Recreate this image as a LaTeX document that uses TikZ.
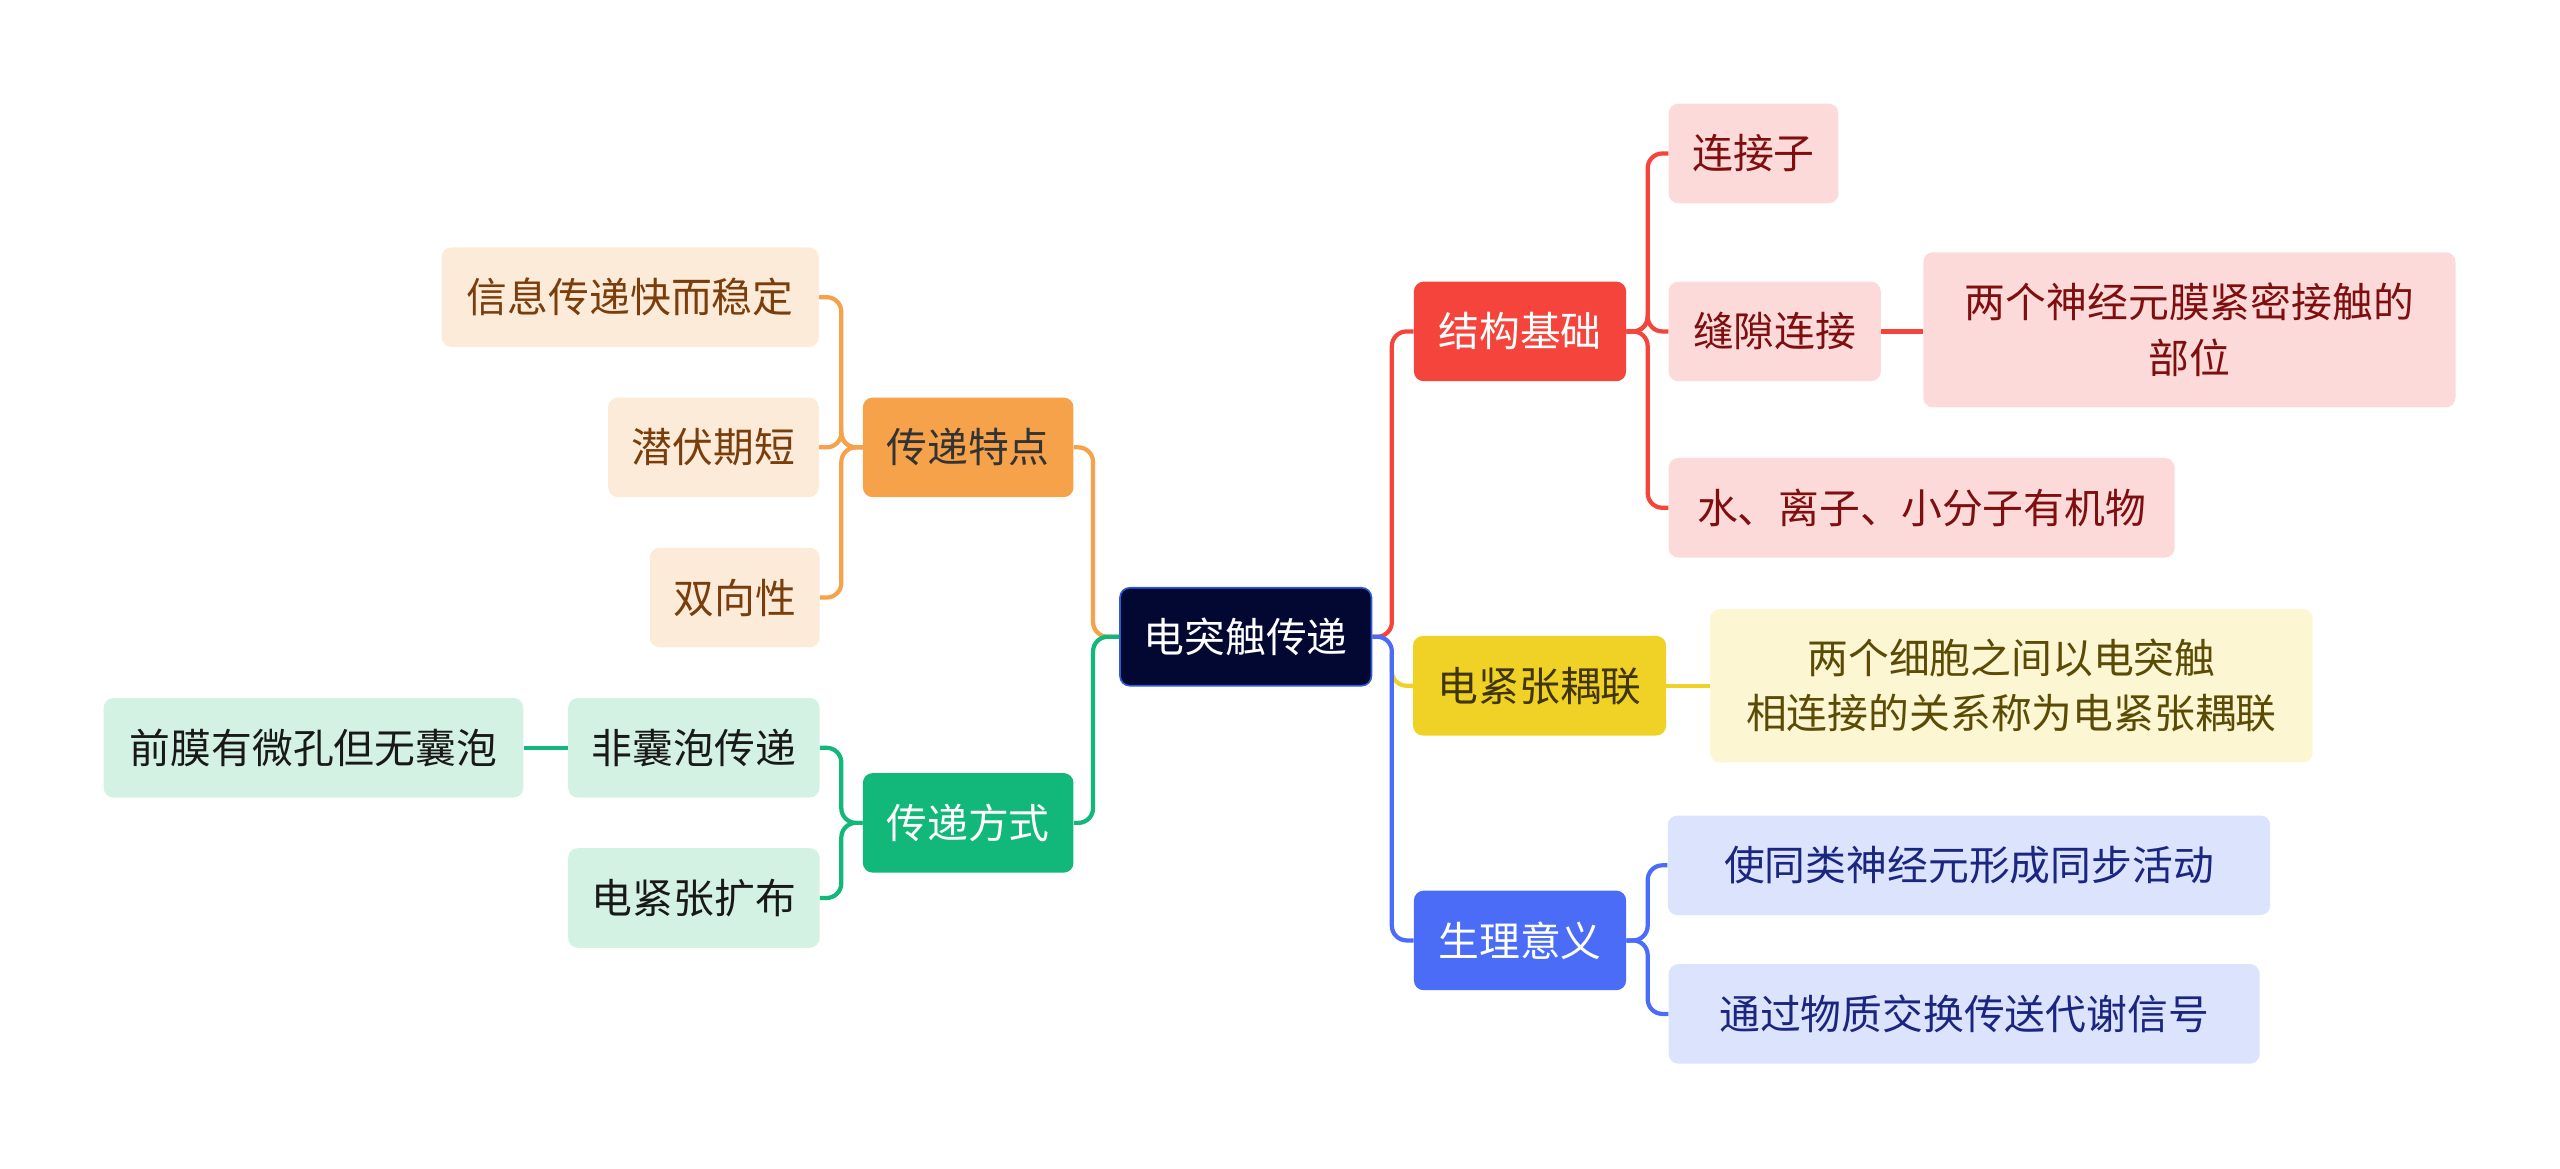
\documentclass[tikz,border=0pt]{standalone}
\usepackage{fontspec}
\newfontfamily\cjk{Noto Sans CJK SC}
\usepackage{xcolor}
\usetikzlibrary{positioning}
\definecolor{genlan}{HTML}{030833}
\definecolor{genbian}{HTML}{2E5BD8}
\definecolor{cheng}{HTML}{F5A24B}
\definecolor{chengqian}{HTML}{FDEBD9}
\definecolor{chengzi}{HTML}{7A3E0C}
\definecolor{lv}{HTML}{12B77A}
\definecolor{lvqian}{HTML}{D4F2E4}
\definecolor{hong}{HTML}{F4443B}
\definecolor{hongqian}{HTML}{FCDADA}
\definecolor{hongzi}{HTML}{7F0F0F}
\definecolor{huang}{HTML}{F0D226}
\definecolor{huangqian}{HTML}{FCF6D2}
\definecolor{huangzi}{HTML}{5B4B05}
\definecolor{lan}{HTML}{4A6CF6}
\definecolor{lanqian}{HTML}{DCE3FC}
\definecolor{lanzi}{HTML}{1A2680}

\begin{document}
\begin{tikzpicture}[x=1pt, y=-1pt,
    kuang/.style={rounded corners=6pt, inner sep=0pt, align=center,
                  minimum height=61pt,
                  font=\cjk\fontsize{25}{34}\selectfont},
    lianxian/.style={line width=2.6pt, rounded corners=9pt}
  ]
    \useasboundingbox (0,0) rectangle (1568,716);

    % Noeud central
    \node[kuang, fill=genlan, draw=genbian, line width=1pt, text=white,
          minimum width=154pt, minimum height=60pt] (gen) at (763,390) {电突触传递};

    % Branche gauche : transmission
    \node[kuang, fill=cheng, text=black!80, minimum width=129pt] (tedian) at (593,274) {传递特点};
    \node[kuang, fill=chengqian, text=chengzi, minimum width=231pt] (kuai) at (386,182) {信息传递快而稳定};
    \node[kuang, fill=chengqian, text=chengzi, minimum width=129pt] (qianfu) at (437,274) {潜伏期短};
    \node[kuang, fill=chengqian, text=chengzi, minimum width=104pt] (shuang) at (450,366) {双向性};

    \node[kuang, fill=lv, text=white, minimum width=129pt] (fangshi) at (593,504) {传递方式};
    \node[kuang, fill=lvqian, text=black!90, minimum width=154pt] (feinang) at (425,458) {非囊泡传递};
    \node[kuang, fill=lvqian, text=black!90, minimum width=154pt] (kuobu) at (425,550) {电紧张扩布};
    \node[kuang, fill=lvqian, text=black!90, minimum width=257pt] (qianmo) at (192,458) {前膜有微孔但无囊泡};

    % Branche droite : structure
    \node[kuang, fill=hong, text=white, minimum width=130pt] (jiegou) at (931,203) {结构基础};
    \node[kuang, fill=hongqian, text=hongzi, minimum width=104pt] (lianjiezi) at (1074,94) {连接子};
    \node[kuang, fill=hongqian, text=hongzi, minimum width=130pt] (fengxi) at (1087,203) {缝隙连接};
    \node[kuang, fill=hongqian, text=hongzi, minimum width=326pt, minimum height=95pt] (buwei) at (1341,202) {两个神经元膜紧密接触的\\部位};
    \node[kuang, fill=hongqian, text=hongzi, minimum width=310pt] (shui) at (1177,311) {水、离子、小分子有机物};

    \node[kuang, fill=huang, text=huangzi!70!black, minimum width=155pt] (ouhe) at (943,420) {电紧张耦联};
    \node[kuang, fill=huangqian, text=huangzi, minimum width=369pt, minimum height=94pt] (dingyi) at (1232,420) {两个细胞之间以电突触\\相连接的关系称为电紧张耦联};

    \node[kuang, fill=lan, text=white, minimum width=130pt] (yiyi) at (931,576) {生理意义};
    \node[kuang, fill=lanqian, text=lanzi, minimum width=369pt] (tongbu) at (1206,530) {使同类神经元形成同步活动};
    \node[kuang, fill=lanqian, text=lanzi, minimum width=362pt] (daixie) at (1203,621) {通过物质交换传送代谢信号};

    % Liaisons depuis le centre
    \draw[lianxian, cheng] (gen.west) -- ++(-16,0) |- (tedian.east);
    \draw[lianxian, lv] (gen.west) -- ++(-16,0) |- (fangshi.east);
    \draw[lianxian, hong] (gen.east) -- ++(12,0) |- (jiegou.west);
    \draw[lianxian, huang] (gen.east) ++(12,10) |- (ouhe.west);
    \draw[lianxian, lan] (gen.east) -- ++(12,0) |- (yiyi.west);

    % Liaisons gauche
    \foreach \n in {kuai, qianfu, shuang}
      \draw[lianxian, cheng] (tedian.west) -- ++(-13,0) |- (\n.east);
    \foreach \n in {feinang, kuobu}
      \draw[lianxian, lv] (fangshi.west) -- ++(-13,0) |- (\n.east);
    \draw[lianxian, lv] (feinang.west) -- (qianmo.east);

    % Liaisons droite
    \foreach \n in {lianjiezi, fengxi, shui}
      \draw[lianxian, hong] (jiegou.east) -- ++(13,0) |- (\n.west);
    \draw[lianxian, hong] (fengxi.east) -- (buwei.west |- fengxi.east);
    \draw[lianxian, huang] (ouhe.east) -- (dingyi.west);
    \foreach \n in {tongbu, daixie}
      \draw[lianxian, lan] (yiyi.east) -- ++(13,0) |- (\n.west);
  \end{tikzpicture}
\end{document}
